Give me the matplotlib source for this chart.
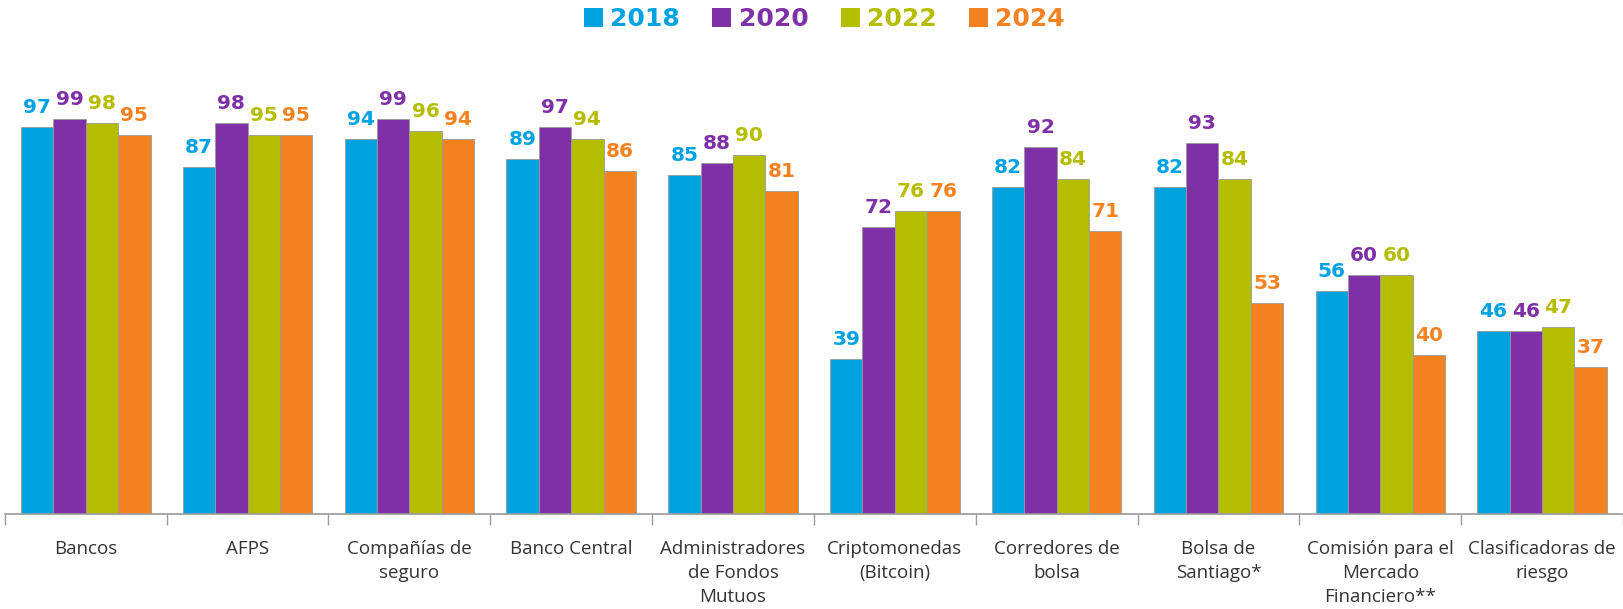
import numpy as np
import matplotlib
matplotlib.use('Agg')
import matplotlib.pyplot as plt
from matplotlib.patches import Patch

categories = ['Bancos', 'AFPS', 'Compañías de\nseguro', 'Banco Central',
              'Administradores\nde Fondos\nMutuos', 'Criptomonedas\n(Bitcoin)',
              'Corredores de\nbolsa', 'Bolsa de\nSantiago*',
              'Comisión para el\nMercado\nFinanciero**', 'Clasificadoras de\nriesgo']
years = ['2018', '2020', '2022', '2024']
v2018 = [97, 87, 94, 89, 85, 39, 82, 82, 56, 46]
v2020 = [99, 98, 99, 97, 88, 72, 92, 93, 60, 46]
v2022 = [98, 95, 96, 94, 90, 76, 84, 84, 60, 47]
v2024 = [95, 95, 94, 86, 81, 76, 71, 53, 40, 37]
colors = ['#00A3E0', '#7F30A6', '#B5BD00', '#F58220']

plt.rcParams['font.family'] = ['Open Sans', 'DejaVu Sans']

fig = plt.figure(figsize=(16.23, 6.09), dpi=100)
ax = fig.add_axes([0.003, 0.156, 0.997, 0.72])

x = np.arange(len(categories))
w = 0.2
series = [v2018, v2020, v2022, v2024]
for i, (vals, c) in enumerate(zip(series, colors)):
    pos = x + (i - 1.5) * w
    ax.bar(pos, vals, width=w, color=c, edgecolor='#9a9a9a', linewidth=0.6)
    for px, v in zip(pos, vals):
        ax.annotate(str(v), (px, v), xytext=(0, 10), textcoords='offset points',
                    ha='center', va='baseline', color=c, fontsize=14.5,
                    fontweight='bold', family='DejaVu Sans')

ax.set_xlim(-0.5, 9.5)
ax.set_ylim(0, 110)
ax.set_yticks([])
for s in ['top', 'right', 'left']:
    ax.spines[s].set_visible(False)
ax.spines['bottom'].set_color('#9a9a9a')
ax.spines['bottom'].set_linewidth(1.2)
ax.set_xticks(x)
ax.set_xticklabels(categories, fontsize=13.5, color='#333333', linespacing=1.42)
ax.tick_params(axis='x', which='major', length=0, pad=19)
ax.set_xticks(np.arange(-0.5, 9.6, 1), minor=True)
ax.tick_params(axis='x', which='minor', length=8, color='#9a9a9a', width=1)
for lbl in ax.get_xticklabels():
    lbl.set_verticalalignment('top')

handles = [Patch(facecolor=c, edgecolor='none') for c in colors]
leg = fig.legend(handles, years, loc='upper center', bbox_to_anchor=(0.508, 1.025), ncol=4,
                 frameon=False, prop={'size': 18, 'weight': 'bold', 'family': 'DejaVu Sans'},
                 handlelength=0.75, handleheight=0.75, handletextpad=0.3, columnspacing=1.3)
for t, c in zip(leg.get_texts(), colors):
    t.set_color(c)

fig.savefig('out.png', dpi=100)
